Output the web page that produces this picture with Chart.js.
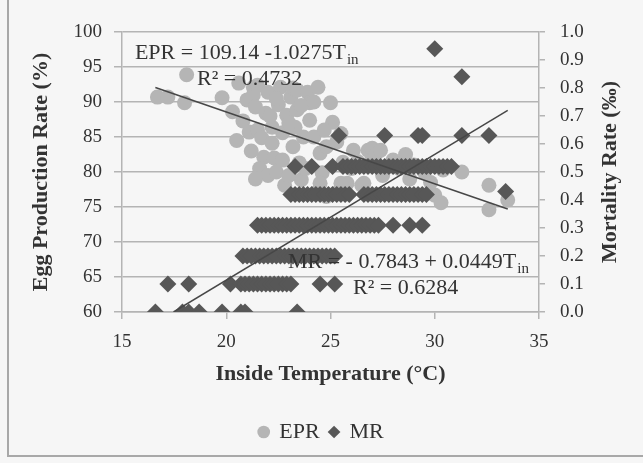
<!DOCTYPE html>
<html>
<head>
<meta charset="utf-8">
<script src="https://cdn.jsdelivr.net/npm/chart.js@4.4.0/dist/chart.umd.min.js"></script>
<style>
  html, body { margin: 0; padding: 0; background: #f6f6f6; }
</style>
</head>
<body>
<canvas id="chartEprMr" width="643" height="463"></canvas>
<script>
// Egg production rate (%) vs inside temperature (°C)
var eprTemp = [16.7, 17.2, 18.0, 18.1, 19.8, 20.3, 20.6, 20.8, 21.0, 21.1, 21.3, 21.3, 21.4, 21.5, 21.5,
  21.7, 21.8, 21.9, 22.0, 22.2, 22.2, 22.3, 22.5, 22.6, 22.7, 22.7, 22.8, 22.9, 23.1, 23.2, 23.2, 23.3,
  23.4, 23.4, 23.5, 23.6, 23.7, 23.9, 24.0, 24.0, 24.2, 24.4, 24.5, 24.6, 24.8, 25.0, 25.1, 25.3, 25.6,
  25.8, 26.1, 26.6, 26.8, 27.0, 27.0, 27.2, 27.4, 27.7, 28.0, 30.4, 31.3, 32.6, 24.5, 25.5, 26.5, 30.0,
  30.3, 32.6, 33.5, 21.2, 21.6, 22.0, 22.4, 23.0, 23.8, 24.3, 24.8, 25.3, 22.1, 22.4, 23.0, 23.6, 24.2,
  24.7, 25.5, 26.0, 26.3, 27.5, 28.3, 28.6, 29.0, 29.5, 29.8, 28.8, 20.5, 21.4];
var eprRate = [90.7, 90.7, 89.9, 93.9, 90.6, 88.6, 92.7, 87.3, 90.3, 85.7, 92.1, 91.0, 89.3, 86.0, 92.4,
  84.9, 82.1, 88.4, 91.4, 86.4, 84.1, 82.0, 89.6, 92.1, 85.6, 81.7, 78.1, 88.1, 90.7, 92.0, 83.6, 86.4,
  88.9, 91.7, 81.3, 78.9, 85.0, 91.4, 89.9, 87.4, 85.0, 92.1, 82.7, 79.9, 83.6, 89.9, 87.1, 84.3, 81.4,
  78.4, 83.1, 78.4, 83.1, 82.1, 83.4, 82.7, 83.1, 80.7, 81.7, 80.3, 80.0, 78.1, 78.4, 78.4, 78.1, 76.7,
  75.6, 74.6, 76.0, 83.0, 80.5, 79.5, 80.0, 79.5, 80.5, 77.0, 76.5, 77.0, 88.0, 90.5, 87.0, 89.5, 90.0,
  86.0, 85.5, 80.5, 81.5, 79.5, 80.5, 82.5, 81.0, 80.0, 78.5, 79.0, 84.5, 79.0];

// Mortality rate (‰) vs inside temperature (°C)
var mrTemp = [16.6, 17.9, 18.2, 18.7, 19.8, 20.7, 20.9, 23.4,
  17.2, 18.2, 20.2, 20.7, 20.9, 21.1, 21.3, 21.5, 21.7, 21.9, 22.1, 22.3, 22.5, 22.7, 22.9, 23.1, 24.5, 25.2,
  20.8, 21.0, 21.2, 21.4, 21.6, 21.8, 22.0, 22.2, 22.4, 22.6, 22.8, 23.0, 23.2, 23.4, 23.6, 23.8, 24.0,
  24.2, 24.4, 24.6, 24.8, 25.0, 25.2,
  21.5, 21.7, 21.9, 22.1, 22.3, 22.5, 22.7, 22.9, 23.1, 23.3, 23.5, 23.7, 23.9, 24.1, 24.3, 24.5, 24.7,
  24.9, 25.1, 25.3, 25.5, 25.7, 25.9, 26.1, 26.3, 26.5, 26.7, 26.9, 27.1, 27.3, 28.0, 28.8, 29.4,
  23.1, 23.3, 23.5, 23.7, 23.9, 24.1, 24.3, 24.5, 24.7, 24.9, 25.1, 25.3, 25.5, 25.7, 25.9, 26.6, 26.8,
  27.0, 27.2, 27.4, 27.6, 27.8, 28.0, 28.2, 28.4, 28.6, 28.8, 29.0, 29.2, 29.4, 29.6, 33.4,
  23.3, 24.1, 25.1, 25.6, 25.8, 26.0, 26.2, 26.4, 26.6, 26.8, 27.0, 27.2, 27.4, 27.6, 27.8, 28.0, 28.2,
  28.4, 28.6, 28.8, 29.0, 29.2, 29.4, 29.6, 29.8, 30.0, 30.2, 30.4, 30.6, 30.8,
  25.4, 27.6, 29.2, 29.4, 31.3, 32.6, 30.0, 31.3];
var mrRate = [0, 0, 0, 0, 0, 0, 0, 0,
  0.1, 0.1, 0.1, 0.1, 0.1, 0.1, 0.1, 0.1, 0.1, 0.1, 0.1, 0.1, 0.1, 0.1, 0.1, 0.1, 0.1, 0.1,
  0.2, 0.2, 0.2, 0.2, 0.2, 0.2, 0.2, 0.2, 0.2, 0.2, 0.2, 0.2, 0.2, 0.2, 0.2, 0.2, 0.2,
  0.2, 0.2, 0.2, 0.2, 0.2, 0.2,
  0.31, 0.31, 0.31, 0.31, 0.31, 0.31, 0.31, 0.31, 0.31, 0.31, 0.31, 0.31, 0.31, 0.31, 0.31, 0.31, 0.31,
  0.31, 0.31, 0.31, 0.31, 0.31, 0.31, 0.31, 0.31, 0.31, 0.31, 0.31, 0.31, 0.31, 0.31, 0.31, 0.31,
  0.42, 0.42, 0.42, 0.42, 0.42, 0.42, 0.42, 0.42, 0.42, 0.42, 0.42, 0.42, 0.42, 0.42, 0.42, 0.42, 0.42,
  0.42, 0.42, 0.42, 0.42, 0.42, 0.42, 0.42, 0.42, 0.42, 0.42, 0.42, 0.42, 0.42, 0.42, 0.43,
  0.52, 0.52, 0.52, 0.52, 0.52, 0.52, 0.52, 0.52, 0.52, 0.52, 0.52, 0.52, 0.52, 0.52, 0.52, 0.52, 0.52,
  0.52, 0.52, 0.52, 0.52, 0.52, 0.52, 0.52, 0.52, 0.52, 0.52, 0.52, 0.52, 0.52,
  0.63, 0.63, 0.63, 0.63, 0.63, 0.63, 0.94, 0.84];

// linear trendlines (end points as shown on the chart)
var eprTrendTemp = [16.6, 33.5];
var eprTrendRate = [92.08, 74.72];
var mrTrendTemp = [17.47, 33.5];
var mrTrendRate = [0.0, 0.72];

var xTicks = [15, 20, 25, 30, 35];
var eprTicks = [60, 65, 70, 75, 80, 85, 90, 95, 100];
var mrTicks = [0, 0.1, 0.2, 0.3, 0.4, 0.5, 0.6, 0.7, 0.8, 0.9, 1.0];

function toPoints(xs, ys) {
  return xs.map(function (x, i) { return { x: x, y: ys[i] }; });
}

var serif = 'Liberation Serif';
var textColor = '#333333';
var gridColor = '#b4b4b4';

// equation labels, anchored in data units
var equations = [
  { text: 'EPR = 109.14 -1.0275T', sub: 'in', t: 15.62, v: 97.0, axis: 'y' },
  { text: 'R\u00b2 = 0.4732', sub: '', t: 18.6, v: 93.3, axis: 'y' },
  { text: 'MR = - 0.7843 + 0.0449T', sub: 'in', t: 22.96, v: 0.179, axis: 'y2' },
  { text: 'R\u00b2 = 0.6284', sub: '', t: 26.08, v: 0.086, axis: 'y2' }
];

var extras = {
  id: 'extras',
  beforeDraw: function (chart) {
    var ctx = chart.ctx;
    ctx.save();
    ctx.fillStyle = '#f6f6f6';
    ctx.fillRect(0, 0, chart.width, chart.height);
    ctx.strokeStyle = '#a8a8a8';
    ctx.lineWidth = 2;
    ctx.beginPath();
    ctx.moveTo(8, 0);
    ctx.lineTo(8, 456);
    ctx.lineTo(chart.width, 456);
    ctx.stroke();
    ctx.restore();
  },
  afterDraw: function (chart) {
    var ctx = chart.ctx;
    var area = chart.chartArea;
    ctx.save();
    ctx.fillStyle = textColor;
    ctx.textBaseline = 'middle';
    ctx.textAlign = 'left';
    equations.forEach(function (eq) {
      var px = chart.scales.x.getPixelForValue(eq.t);
      var py = chart.scales[eq.axis].getPixelForValue(eq.v);
      ctx.font = '22px "' + serif + '"';
      ctx.fillText(eq.text, px, py);
      if (eq.sub) {
        var w = ctx.measureText(eq.text).width;
        ctx.font = '15px "' + serif + '"';
        ctx.fillText(eq.sub, px + w + 1, py + 7);
      }
    });
    // right axis title, reading upwards like the left one
    ctx.font = 'bold 22px "' + serif + '"';
    ctx.textAlign = 'center';
    ctx.translate(610, (area.top + area.bottom) / 2);
    ctx.rotate(-Math.PI / 2);
    ctx.fillText('Mortality Rate (\u2030)', 0, 0);
    ctx.restore();
  }
};

var config = {
  type: 'scatter',
  data: {
    datasets: [
      {
        label: 'EPR',
        data: toPoints(eprTemp, eprRate),
        yAxisID: 'y',
        pointStyle: 'circle',
        pointRadius: 7.5,
        backgroundColor: '#b5b5b5',
        borderWidth: 0,
        order: 3
      },
      {
        label: 'MR',
        data: toPoints(mrTemp, mrRate),
        yAxisID: 'y2',
        pointStyle: 'rectRot',
        pointRadius: 8.5,
        backgroundColor: '#575757',
        borderWidth: 0,
        order: 2
      },
      {
        label: 'EPR trend',
        data: toPoints(eprTrendTemp, eprTrendRate),
        yAxisID: 'y',
        showLine: true,
        pointRadius: 0,
        borderColor: '#474747',
        borderWidth: 1.5,
        order: 1
      },
      {
        label: 'MR trend',
        data: toPoints(mrTrendTemp, mrTrendRate),
        yAxisID: 'y2',
        showLine: true,
        pointRadius: 0,
        borderColor: '#474747',
        borderWidth: 1.5,
        order: 0
      }
    ]
  },
  options: {
    responsive: false,
    animation: false,
    events: [],
    layout: { padding: { top: 32, left: 0, right: 0, bottom: 10 } },
    plugins: {
      tooltip: { enabled: false },
      legend: {
        position: 'bottom',
        labels: {
          usePointStyle: true,
          boxWidth: 9,
          boxHeight: 9,
          padding: 10,
          color: textColor,
          font: { family: serif, size: 22 },
          filter: function (item) { return item.datasetIndex < 2; },
          sort: function (a, b) { return a.datasetIndex - b.datasetIndex; }
        }
      }
    },
    scales: {
      x: {
        type: 'linear',
        min: 15,
        max: 35,
        afterBuildTicks: function (scale) { scale.ticks = xTicks.map(function (v) { return { value: v }; }); },
        afterFit: function (scale) { scale.height = 99; },
        grid: { drawOnChartArea: false, tickLength: 7, color: gridColor, lineWidth: 1.5 },
        border: { color: gridColor, width: 1.5 },
        ticks: { color: textColor, font: { family: serif, size: 19 }, padding: 12, maxRotation: 0 },
        title: {
          display: true,
          text: 'Inside Temperature (\u00b0C)',
          color: textColor,
          font: { family: serif, size: 22, weight: 'bold' },
          padding: { top: 0, bottom: 23 }
        }
      },
      y: {
        type: 'linear',
        position: 'left',
        min: 60,
        max: 100,
        afterBuildTicks: function (scale) { scale.ticks = eprTicks.map(function (v) { return { value: v }; }); },
        afterFit: function (scale) { scale.width = 122; },
        grid: { color: gridColor, lineWidth: 1.5, tickLength: 8 },
        border: { color: gridColor, width: 1.5 },
        ticks: { color: textColor, font: { family: serif, size: 19 }, padding: 12, autoSkip: false },
        title: {
          display: true,
          text: 'Egg Production Rate (%)',
          color: textColor,
          font: { family: serif, size: 22, weight: 'bold' },
          padding: { top: 28, bottom: 0 }
        }
      },
      y2: {
        type: 'linear',
        position: 'right',
        min: 0,
        max: 1,
        afterBuildTicks: function (scale) { scale.ticks = mrTicks.map(function (v) { return { value: v }; }); },
        afterFit: function (scale) { scale.width = 104; },
        grid: { drawOnChartArea: false, color: gridColor, lineWidth: 1.5, tickLength: 6 },
        border: { color: gridColor, width: 1.5 },
        ticks: {
          color: textColor,
          font: { family: serif, size: 19 },
          padding: 15,
          autoSkip: false,
          callback: function (v) { return Number(v).toFixed(1); }
        }
      }
    }
  },
  plugins: [extras]
};

var ctx = document.getElementById('chartEprMr').getContext('2d');
window.chartEprMr = new Chart(ctx, config);
</script>
</body>
</html>
